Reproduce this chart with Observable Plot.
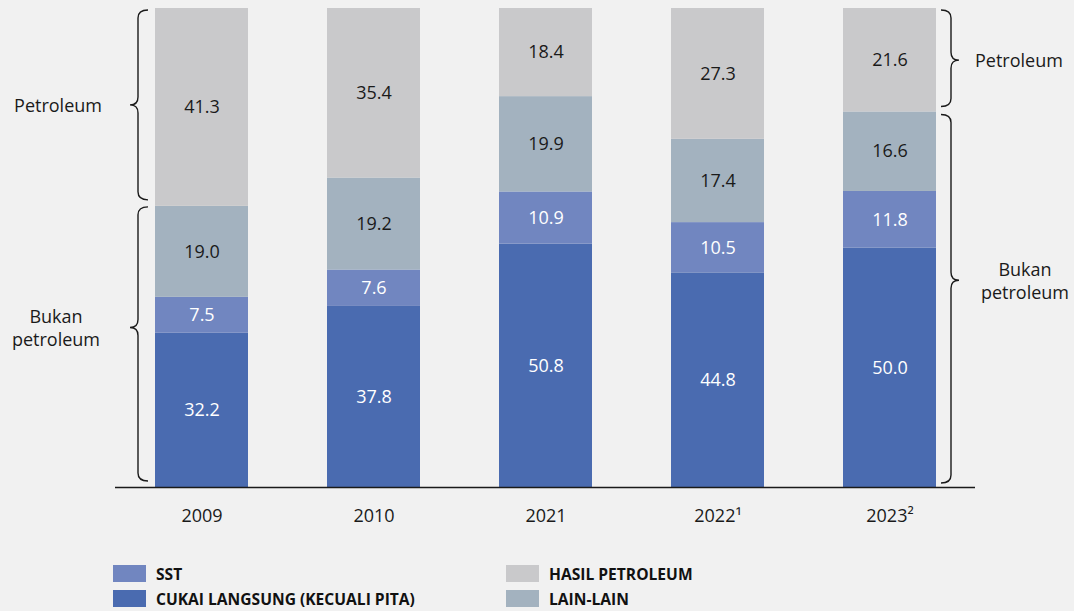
<!DOCTYPE html>
<html>
<head>
<meta charset="utf-8">
<script src="https://cdn.jsdelivr.net/npm/d3@7"></script>
<script src="https://cdn.jsdelivr.net/npm/@observablehq/plot@0.6"></script>
<style>
  html, body { margin: 0; padding: 0; background: #f1f1f1; }
  #wrap { position: relative; width: 1074px; height: 611px; background: #f1f1f1; font-family: "Open Sans", "Noto Sans", sans-serif; }
  #legend { position: absolute; left: 0; top: 0; width: 1074px; height: 611px; pointer-events: none; }
  .item { position: absolute; display: flex; align-items: center; font-weight: 700; font-size: 15.6px; color: #111; height: 17px; }
  .sw { width: 33px; height: 17px; margin-right: 10px; }
</style>
</head>
<body>
<div id="wrap"><div id="chart"></div><div id="legend"></div></div>
<script>
const years = ["2009", "2010", "2021", "2022¹", "2023²"];
const cukai = [32.2, 37.8, 50.8, 44.8, 50.0];
const sst = [7.5, 7.6, 10.9, 10.5, 11.8];
const lain = [19.0, 19.2, 19.9, 17.4, 16.6];
const petroleum = [41.3, 35.4, 18.4, 27.3, 21.6];
const seriesNames = ["CUKAI LANGSUNG (KECUALI PITA)", "SST", "LAIN-LAIN", "HASIL PETROLEUM"];
const seriesColors = ["#4a6bb0", "#7186c0", "#a3b2bf", "#c9c9cb"];
const labelColors = ["#ffffff", "#ffffff", "#1a1a1a", "#1a1a1a"];
const bracketLabels = ["Petroleum", "Bukan petroleum"];

const seriesValues = [cukai, sst, lain, petroleum];
const rows = [];
years.forEach((yr, i) => {
  let acc = 0;
  seriesValues.forEach((vals, s) => {
    const v = vals[i];
    rows.push({year: yr, series: seriesNames[s], value: v, y1: acc, y2: acc + v, light: labelColors[s] === "#ffffff"});
    acc += v;
  });
});

const nonPet = years.map((_, i) => cukai[i] + sst[i] + lain[i]);

function bracePath(x0, dir, y1, y2, ym) {
  const xv = x0 + dir * 10, xt = x0 + dir * 18, r = 8;
  return `M${x0},${y1} Q${xv},${y1} ${xv},${y1 + r} L${xv},${ym - r} Q${xv},${ym} ${xt},${ym} Q${xv},${ym} ${xv},${ym + r} L${xv},${y2 - r} Q${xv},${y2} ${x0},${y2}`;
}

function braces(index, scales) {
  const y = scales.y, x = scales.x;
  const g = d3.create("svg:g");
  const bw = x.bandwidth ? x.bandwidth() : 93;
  const leftX = x(years[0]) - 7;
  const rightX = x(years[years.length - 1]) + bw + 5;
  const top = y(100), base = y(0);
  const specs = [
    {x0: leftX, dir: -1, y1: top + 2, y2: y(nonPet[0]) - 6, f: 0.5, label: [bracketLabels[0]], lx: 58, anchor: "middle"},
    {x0: leftX, dir: -1, y1: y(nonPet[0]) + 1, y2: base - 6, f: 0.44, label: bracketLabels[1].split(" "), lx: 56, anchor: "middle"},
    {x0: rightX, dir: 1, y1: top + 2, y2: y(nonPet[4]) - 5, f: 0.52, label: [bracketLabels[0]], lx: 975, anchor: "start"},
    {x0: rightX, dir: 1, y1: y(nonPet[4]) + 3, y2: base - 4, f: 0.45, label: bracketLabels[1].split(" "), lx: 1025, anchor: "middle"}
  ];
  for (const s of specs) {
    const ym = s.y1 + (s.y2 - s.y1) * s.f;
    g.append("path").attr("d", bracePath(s.x0, s.dir, s.y1, s.y2, ym))
      .attr("fill", "none").attr("stroke", "#1a1a1a").attr("stroke-width", 1.4);
    const n = s.label.length;
    s.label.forEach((t, k) => {
      g.append("text").attr("x", s.lx).attr("y", ym + (k - (n - 1) / 2) * 23)
        .attr("text-anchor", s.anchor).attr("dominant-baseline", "central")
        .attr("fill", "#1a1a1a").attr("font-size", 18).text(t);
    });
  }
  return g.node();
}

const chart = Plot.plot({
  width: 1074,
  height: 545,
  marginTop: 8,
  marginBottom: 58,
  marginLeft: 115,
  marginRight: 99,
  style: {background: "#f1f1f1", fontFamily: "'Open Sans', 'Noto Sans', sans-serif", fontSize: "18px", color: "#1a1a1a"},
  x: {domain: years, paddingInner: 0.46, paddingOuter: 0.23, axis: null},
  y: {domain: [0, 100], axis: null},
  color: {domain: seriesNames, range: seriesColors},
  marks: [
    Plot.rectY(rows, {x: "year", y1: "y1", y2: "y2", fill: "series"}),
    Plot.text(rows.filter(d => d.light), {x: "year", y: d => (d.y1 + d.y2) / 2, text: d => d.value.toFixed(1), fill: "#ffffff", fontSize: 18}),
    Plot.text(rows.filter(d => !d.light), {x: "year", y: d => (d.y1 + d.y2) / 2, text: d => d.value.toFixed(1), fill: "#1a1a1a", fontSize: 18}),
    Plot.ruleY([0], {stroke: "#1a1a1a", strokeWidth: 1.5}),
    Plot.axisX({tickSize: 0, tickPadding: 22, fontSize: 18, fill: "#1a1a1a", label: null}),
    braces
  ]
});
document.getElementById("chart").appendChild(chart);

const legend = document.getElementById("legend");
const legendPos = [
  {s: 1, left: 113, top: 565},
  {s: 0, left: 113, top: 590},
  {s: 3, left: 506, top: 565},
  {s: 2, left: 506, top: 590}
];
for (const p of legendPos) {
  const it = document.createElement("div");
  it.className = "item";
  it.style.left = p.left + "px";
  it.style.top = p.top + "px";
  const sw = document.createElement("div");
  sw.className = "sw";
  sw.style.background = seriesColors[p.s];
  const tx = document.createElement("span");
  tx.textContent = seriesNames[p.s];
  it.appendChild(sw);
  it.appendChild(tx);
  legend.appendChild(it);
}
</script>
</body>
</html>
